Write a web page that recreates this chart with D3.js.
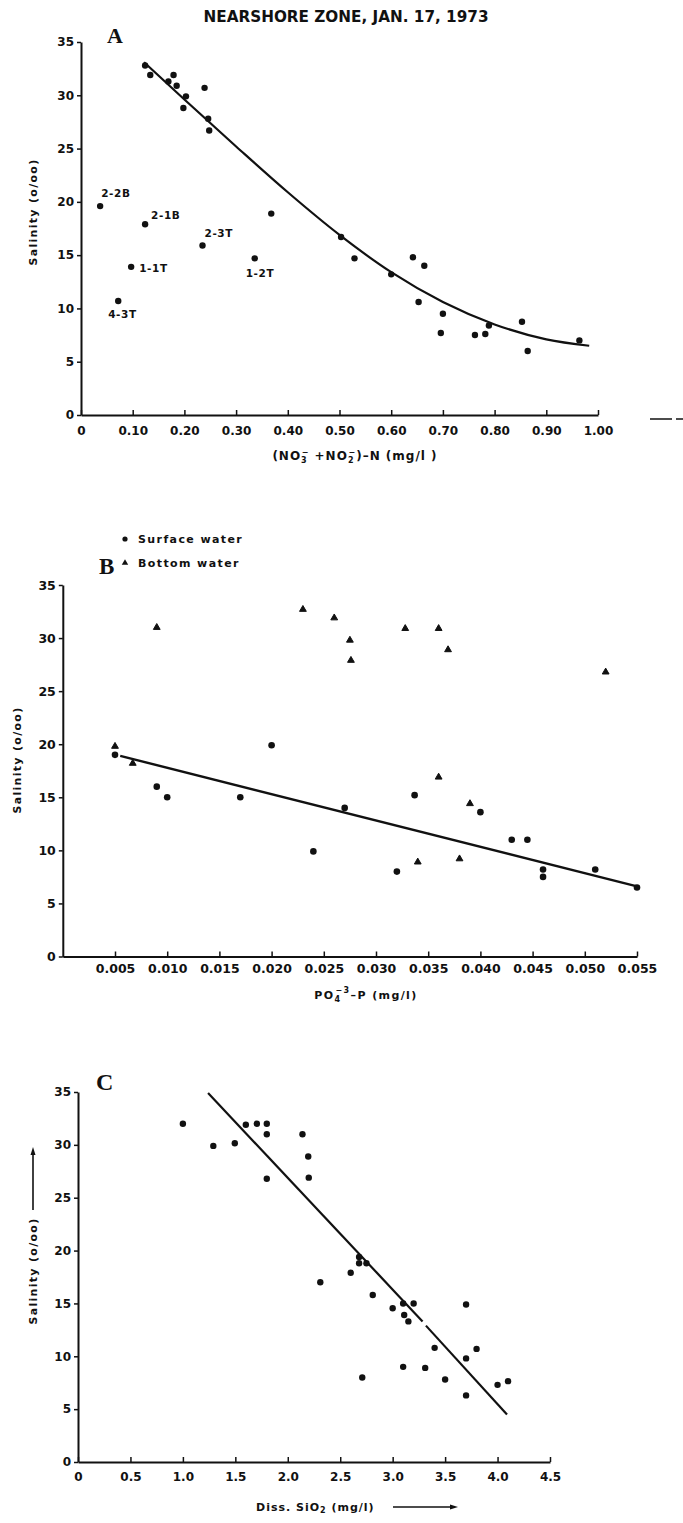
<!DOCTYPE html>
<html><head><meta charset="utf-8">
<script src="https://cdn.jsdelivr.net/npm/d3@7"></script>
<style>
body{margin:0;background:#fff}
text{font-family:"DejaVu Sans",sans-serif;font-weight:bold;fill:#111}
.serif{font-family:"Liberation Serif",serif;font-weight:bold}
</style>
</head><body><svg id="c" width="683" height="1523"></svg>
<script>
// ---------- data ----------
const titleText = "NEARSHORE ZONE, JAN. 17, 1973";
const yTicks = [0,5,10,15,20,25,30,35];

// Panel A
const aXTicks = [0,0.1,0.2,0.3,0.4,0.5,0.6,0.7,0.8,0.9,1.0];
const aX = [0.124,0.134,0.169,0.179,0.185,0.203,0.198,0.239,0.246,0.248,0.368,0.503,0.529,0.600,0.642,0.664,0.653,0.700,0.696,0.762,0.782,0.789,0.853,0.864,0.964];
const aY = [32.8,31.9,31.3,31.9,30.9,29.9,28.8,30.7,27.8,26.7,18.9,16.7,14.7,13.2,14.8,14.0,10.6,9.5,7.7,7.5,7.6,8.4,8.75,6.0,7.0];
const aLabelNames = ["2-2B","2-1B","2-3T","1-1T","1-2T","4-3T"];
const aLabelX = [0.037,0.124,0.235,0.097,0.336,0.072];
const aLabelY = [19.6,17.9,15.9,13.9,14.7,10.7];
const aCurveX = [0.122,0.2,0.3,0.4,0.5,0.6,0.7,0.8,0.9,0.983];
const aCurveY = [33.1,29.6,25.2,20.9,16.9,13.4,10.6,8.5,7.1,6.5];

// Panel B
const bXTicks = [0.005,0.010,0.015,0.020,0.025,0.030,0.035,0.040,0.045,0.050,0.055];
const bSurfX = [0.005,0.009,0.010,0.017,0.020,0.024,0.027,0.032,0.0337,0.040,0.043,0.0445,0.046,0.046,0.051,0.055];
const bSurfY = [19.0,16.0,15.0,15.0,19.9,9.9,14.0,8.0,15.2,13.6,11.0,11.0,8.2,7.5,8.2,6.5];
const bBotX = [0.005,0.0067,0.009,0.023,0.026,0.0275,0.0276,0.0328,0.034,0.036,0.036,0.0369,0.038,0.039,0.052];
const bBotY = [19.8,18.2,31.0,32.7,31.9,29.8,27.9,30.9,8.9,16.9,30.9,28.9,9.2,14.4,26.8];
const bLineX = [0.0055,0.055];
const bLineY = [18.9,6.6];
const legendNames = ["Surface water","Bottom water"];

// Panel C
const cXTicks = [0,0.5,1.0,1.5,2.0,2.5,3.0,3.5,4.0,4.5];
const cX = [1.0,1.29,1.495,1.60,1.705,1.80,1.80,1.80,2.14,2.195,2.20,2.68,2.68,2.75,2.60,2.31,2.81,3.10,3.20,3.00,3.11,3.15,3.40,3.80,3.70,3.70,3.10,3.31,2.71,3.50,4.00,4.10,3.70];
const cY = [32.0,29.9,30.15,31.9,32.0,32.0,31.0,26.8,31.0,28.9,26.9,19.4,18.8,18.8,17.9,17.0,15.8,15.0,15.0,14.55,13.9,13.3,10.8,10.7,14.9,9.8,9.0,8.9,8.0,7.8,7.3,7.65,6.3];
const cLine1X = [1.24,3.285], cLine1Y = [34.9,13.3];
const cLine2X = [3.317,4.09], cLine2Y = [12.9,4.5];

// ---------- drawing ----------
const svg = d3.select("#c");
const ink = "#111";

svg.append("text").attr("x",346).attr("y",22).attr("text-anchor","middle")
  .attr("font-size",15).attr("textLength",285).attr("lengthAdjust","spacingAndGlyphs")
  .text(titleText);

function axes(g, x, y, xTicks, fmt, pad){
  const xa = d3.axisBottom(x).tickValues(xTicks).tickSizeInner(-5).tickSizeOuter(0).tickPadding(pad).tickFormat(fmt);
  const ya = d3.axisLeft(y).tickValues(yTicks).tickSizeInner(4).tickSizeOuter(0).tickPadding(3).tickFormat(d3.format("d"));
  const gx = g.append("g").attr("transform",`translate(0,${y(0)})`).call(xa);
  const gy = g.append("g").attr("transform",`translate(${x.range()[0]},0)`).call(ya);
  [gx,gy].forEach(a=>{
    a.select(".domain").attr("stroke",ink).attr("stroke-width",2);
    a.selectAll(".tick line").attr("stroke",ink).attr("stroke-width",1.5);
    a.selectAll(".tick text").attr("font-size",12).attr("font-family","DejaVu Sans").attr("font-weight","bold").attr("fill",ink);
  });
  return {gx,gy};
}
function ylabel(x, yc){
  svg.append("text").attr("transform",`translate(${x},${yc}) rotate(-90)`)
    .attr("text-anchor","middle").attr("font-size",11).attr("letter-spacing",1.3)
    .text("Salinity (o/oo)");
}

// ===== Panel A =====
{
  const x = d3.scaleLinear().domain([0,1]).range([81,598]);
  const y = d3.scaleLinear().domain([0,35]).range([415,42]);
  const g = svg.append("g");
  axes(g, x, y, aXTicks, d=> d===0 ? "0" : d3.format(".2f")(d), 11);
  svg.append("text").attr("class","serif").attr("x",107).attr("y",43).attr("font-size",22).text("A");
  ylabel(37, 212);
  const xt = svg.append("text").attr("x",355).attr("y",460).attr("text-anchor","middle").attr("font-size",12).attr("letter-spacing",1.0);
  xt.append("tspan").text("(NO");
  xt.append("tspan").attr("font-size",8).attr("dy",3).text("3");
  xt.append("tspan").attr("font-size",8).attr("dx",-6).attr("dy",-8).text("−");
  xt.append("tspan").attr("dy",5).text(" +NO");
  xt.append("tspan").attr("font-size",8).attr("dy",3).text("2");
  xt.append("tspan").attr("font-size",8).attr("dx",-6).attr("dy",-8).text("−");
  xt.append("tspan").attr("dy",5).text(")–N (mg/l )");

  const line = d3.line().x(d=>x(d[0])).y(d=>y(d[1])).curve(d3.curveMonotoneX);
  g.append("path").attr("d", line(aCurveX.map((v,i)=>[v,aCurveY[i]])))
    .attr("fill","none").attr("stroke",ink).attr("stroke-width",2.2);

  g.selectAll("circle.a").data(aX.map((v,i)=>[v,aY[i]])).join("circle")
    .attr("cx",d=>x(d[0])).attr("cy",d=>y(d[1])).attr("r",3.2).attr("fill",ink);
  const lab = aLabelNames.map((n,i)=>({n, x:aLabelX[i], y:aLabelY[i]}));
  const off = {"2-2B":[1,-9],"2-1B":[6,-5],"2-3T":[2,-9],"1-1T":[8,5],"1-2T":[-9,19],"4-3T":[-10,17]};
  g.selectAll("circle.l").data(lab).join("circle")
    .attr("cx",d=>x(d.x)).attr("cy",d=>y(d.y)).attr("r",3.2).attr("fill",ink);
  g.selectAll("text.l").data(lab).join("text")
    .attr("x",d=>x(d.x)+off[d.n][0]).attr("y",d=>y(d.y)+off[d.n][1])
    .attr("font-size",10.5).attr("letter-spacing",0.6).text(d=>d.n);

  // stray scan dash at right edge
  svg.append("line").attr("x1",650).attr("x2",672).attr("y1",419).attr("y2",419).attr("stroke",ink).attr("stroke-width",1.5);
  svg.append("line").attr("x1",676).attr("x2",683).attr("y1",419).attr("y2",419).attr("stroke",ink).attr("stroke-width",1.5);
}

// ===== Panel B =====
{
  const x = d3.scaleLinear().domain([0,0.055]).range([62.8,637]);
  const y = d3.scaleLinear().domain([0,35]).range([956.5,585]);
  const g = svg.append("g");
  axes(g, x, y, bXTicks, d3.format(".3f"), 8);
  g.selectAll(".tick text").attr("font-size",12.5);
  svg.append("text").attr("class","serif").attr("x",99).attr("y",574).attr("font-size",23).text("B");
  ylabel(21, 760);
  const xt = svg.append("text").attr("x",366).attr("y",999).attr("text-anchor","middle").attr("font-size",11).attr("letter-spacing",1.4);
  xt.append("tspan").text("PO");
  xt.append("tspan").attr("font-size",8).attr("dy",3).text("4");
  xt.append("tspan").attr("font-size",8).attr("dx",-6).attr("dy",-9).text("−3");
  xt.append("tspan").attr("dy",6).text("–P (mg/l)");

  // legend
  const lg = svg.append("g");
  lg.append("circle").attr("cx",125).attr("cy",539).attr("r",2.6).attr("fill",ink);
  lg.append("path").attr("d",d3.symbol(d3.symbolTriangle,18)()).attr("transform","translate(125,563)").attr("fill",ink);
  lg.selectAll("text").data(legendNames).join("text").attr("x",138).attr("y",(d,i)=>543+i*24)
    .attr("font-size",11).attr("letter-spacing",1.4).text(d=>d);

  const line = d3.line().x(d=>x(d[0])).y(d=>y(d[1]));
  g.append("path").attr("d", line(bLineX.map((v,i)=>[v,bLineY[i]])))
    .attr("fill","none").attr("stroke",ink).attr("stroke-width",2.4);
  g.selectAll("circle.s").data(bSurfX.map((v,i)=>[v,bSurfY[i]])).join("circle")
    .attr("cx",d=>x(d[0])).attr("cy",d=>y(d[1])).attr("r",3.3).attr("fill",ink);
  g.selectAll("path.t").data(bBotX.map((v,i)=>[v,bBotY[i]])).join("path")
    .attr("d",d3.symbol(d3.symbolTriangle,20)())
    .attr("transform",d=>`translate(${x(d[0])},${y(d[1])})`)
    .attr("fill",ink).attr("stroke",ink).attr("stroke-width",1).attr("stroke-linejoin","round");
}

// ===== Panel C =====
{
  const x = d3.scaleLinear().domain([0,4.5]).range([78,550]);
  const y = d3.scaleLinear().domain([0,35]).range([1462,1092]);
  const g = svg.append("g");
  axes(g, x, y, cXTicks, d=> d===0 ? "0" : d3.format(".1f")(d), 10);
  svg.append("text").attr("class","serif").attr("x",96).attr("y",1090).attr("font-size",24).text("C");
  ylabel(37, 1271);
  // vertical arrow
  svg.append("line").attr("x1",33).attr("x2",33).attr("y1",1210).attr("y2",1152).attr("stroke",ink).attr("stroke-width",1.6);
  svg.append("path").attr("d","M33,1147 L30.5,1155 L35.5,1155 Z").attr("fill",ink);

  svg.append("text").attr("x",256).attr("y",1511).attr("font-size",11).attr("letter-spacing",1.0)
    .call(t=>{t.append("tspan").text("Diss. SiO");
              t.append("tspan").attr("font-size",8).attr("dy",2).text("2");
              t.append("tspan").attr("dy",-2).text(" (mg/l)");});
  svg.append("line").attr("x1",393).attr("x2",452).attr("y1",1507).attr("y2",1507).attr("stroke",ink).attr("stroke-width",1.6);
  svg.append("path").attr("d","M458,1507 L450,1504.5 L450,1509.5 Z").attr("fill",ink);

  const line = d3.line().x(d=>x(d[0])).y(d=>y(d[1]));
  g.append("path").attr("d", line(cLine1X.map((v,i)=>[v,cLine1Y[i]])))
    .attr("fill","none").attr("stroke",ink).attr("stroke-width",2.2);
  g.append("path").attr("d", line(cLine2X.map((v,i)=>[v,cLine2Y[i]])))
    .attr("fill","none").attr("stroke",ink).attr("stroke-width",2.2);
  g.selectAll("circle.c").data(cX.map((v,i)=>[v,cY[i]])).join("circle")
    .attr("cx",d=>x(d[0])).attr("cy",d=>y(d[1])).attr("r",3.2).attr("fill",ink);
}
</script></body></html>
